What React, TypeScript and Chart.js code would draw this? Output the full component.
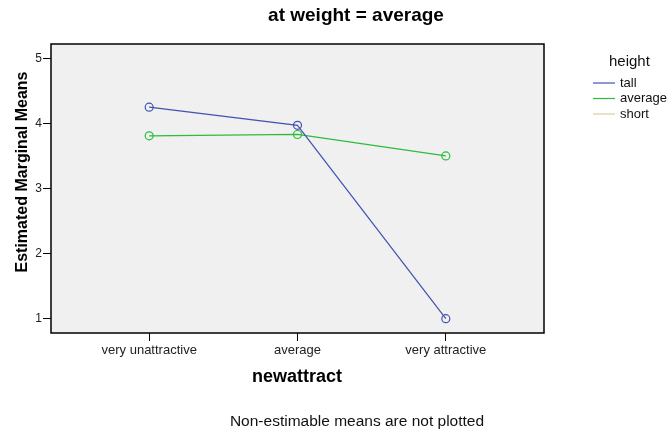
import React, { useEffect, useRef } from "react";
import { Chart, registerables } from "chart.js";
Chart.register(...registerables);

const categories = ["very unattractive", "average", "very attractive"];
const yTicks = [1, 2, 3, 4, 5];
const seriesNames = ["tall", "average", "short"];
const tallValues = [4.25, 3.97, 1.0];
const averageValues = [3.81, 3.83, 3.5];
const shortValues: (number | null)[] = [null, null, null];
const seriesColors = ["#4152b3", "#2cbc3b", "#d9cfa6"];

const FONT = "'Liberation Sans', Arial, sans-serif";

const decorPlugin = {
  id: "decor",
  beforeDatasetsDraw(chart: any) {
    const { ctx, chartArea: a } = chart;
    ctx.save();
    ctx.fillStyle = "#f0f0f0";
    ctx.fillRect(a.left, a.top, a.right - a.left, a.bottom - a.top);
    ctx.restore();
  },
  afterDraw(chart: any) {
    const { ctx, chartArea: a } = chart;
    ctx.save();
    ctx.strokeStyle = "#000";
    ctx.lineWidth = 1.5;
    ctx.strokeRect(a.left, a.top, a.right - a.left, a.bottom - a.top);

    ctx.fillStyle = "#000";
    ctx.textAlign = "center";
    ctx.textBaseline = "middle";
    ctx.font = `bold 19px ${FONT}`;
    ctx.fillText("at weight = average", 356, 16);

    ctx.font = `bold 18px ${FONT}`;
    ctx.fillText("newattract", 297, 377);

    ctx.font = `15.5px ${FONT}`;
    ctx.fillStyle = "#111";
    ctx.fillText("Non-estimable means are not plotted", 357, 422);

    ctx.save();
    ctx.translate(23, 172);
    ctx.rotate(-Math.PI / 2);
    ctx.font = `bold 16px ${FONT}`;
    ctx.fillStyle = "#000";
    ctx.fillText("Estimated Marginal Means", 0, 0);
    ctx.restore();

    // legend
    ctx.font = `15px ${FONT}`;
    ctx.textAlign = "left";
    ctx.fillStyle = "#111";
    ctx.fillText("height", 609, 62);
    ctx.font = `13px ${FONT}`;
    chart.data.datasets.forEach((ds: any, i: number) => {
      const y = 83 + i * 15.5;
      ctx.strokeStyle = ds.borderColor;
      ctx.lineWidth = 1.2;
      ctx.beginPath();
      ctx.moveTo(593, y);
      ctx.lineTo(615, y);
      ctx.stroke();
      ctx.fillStyle = "#111";
      ctx.fillText(ds.label, 620, y);
    });
    ctx.restore();
  },
};

export default function App() {
  const ref = useRef<HTMLCanvasElement>(null);
  useEffect(() => {
    const values = [tallValues, averageValues, shortValues];
    const chart = new Chart(ref.current!, {
      type: "line",
      data: {
        datasets: seriesNames.map((name, i) => ({
          label: name,
          data: values[i].map((v, j) => ({ x: j, y: v })),
          borderColor: seriesColors[i],
          backgroundColor: "transparent",
          borderWidth: 1.2,
          pointRadius: 4,
          pointBorderWidth: 1.2,
          pointBackgroundColor: "transparent",
          pointBorderColor: seriesColors[i],
          tension: 0,
        })),
      },
      options: {
        responsive: false,
        animation: false,
        devicePixelRatio: 1,
        layout: { padding: { left: 0, top: 44, right: 128, bottom: 0 } },
        plugins: { legend: { display: false }, tooltip: { enabled: false } },
        scales: {
          x: {
            type: "linear",
            min: -0.662,
            max: 2.662,
            afterBuildTicks: (s: any) => {
              s.ticks = categories.map((_, i) => ({ value: i }));
            },
            afterFit: (s: any) => {
              s.height = 101;
            },
            ticks: {
              callback: (v: any) => categories[v as number] ?? "",
              font: { family: FONT, size: 13 },
              color: "#222",
              padding: 2,
              maxRotation: 0,
            },
            grid: { drawOnChartArea: false, drawTicks: true, tickLength: 8, color: "#000" },
            border: { display: false },
          },
          y: {
            type: "linear",
            min: 0.78,
            max: 5.22,
            afterBuildTicks: (s: any) => {
              s.ticks = yTicks.map((v) => ({ value: v }));
            },
            afterFit: (s: any) => {
              s.width = 51;
            },
            ticks: {
              font: { family: FONT, size: 12 },
              color: "#222",
              padding: 1,
            },
            grid: { drawOnChartArea: false, drawTicks: true, tickLength: 8, color: "#000" },
            border: { display: false },
          },
        },
      },
      plugins: [decorPlugin],
    });
    return () => chart.destroy();
  }, []);
  return (
    <div style={{ position: "fixed", left: 0, top: 0, width: 672, height: 434, background: "#fff" }}>
      <canvas ref={ref} width={672} height={434} />
    </div>
  );
}
